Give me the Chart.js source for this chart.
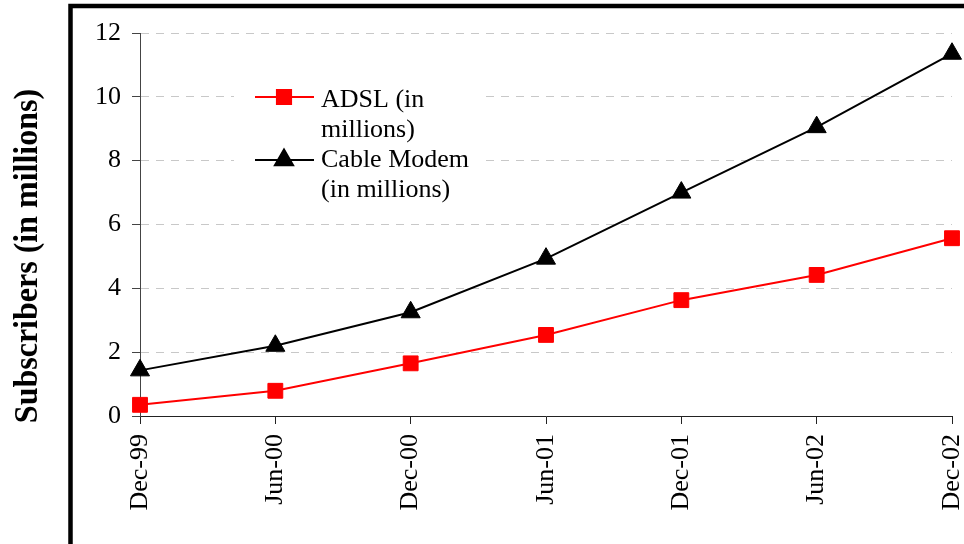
<!DOCTYPE html>
<html>
<head>
<meta charset="utf-8">
<script src="https://cdn.jsdelivr.net/npm/chart.js@4/dist/chart.umd.min.js"></script>
<style>
  html, body { margin: 0; padding: 0; background: #fff; }
  #c { display: block; }
</style>
</head>
<body>
<canvas id="c" width="964" height="544"></canvas>
<script>
// Broadband subscribers, half-yearly
const periods = ['Dec-99', 'Jun-00', 'Dec-00', 'Jun-01', 'Dec-01', 'Jun-02', 'Dec-02'];
const adsl = [0.35, 0.79, 1.65, 2.54, 3.63, 4.42, 5.57];
const cableModem = [1.43, 2.2, 3.25, 4.93, 7.0, 9.05, 11.35];
const yTicks = [0, 2, 4, 6, 8, 10, 12];
const seriesNames = [['ADSL (in', 'millions)'], ['Cable Modem', '(in millions)']];
const yTitle = 'Subscribers (in millions)';

const SERIF = '"Liberation Serif", "Times New Roman", serif';

// Outer frame, axis title and the boxed legend
const decorations = {
  id: 'decorations',
  beforeDatasetsDraw(chart) {
    const ctx = chart.ctx;
    ctx.save();
    // legend background hides the grid behind it
    ctx.fillStyle = '#fff';
    ctx.fillRect(234, 70, 249, 146);
    const items = [
      { color: '#ff0000', style: 'rect', radius: 10, y: 97, lines: seriesNames[0], base: 107 },
      { color: '#000000', style: 'triangle', radius: 10.5, y: 160, lines: seriesNames[1], base: 167 }
    ];
    ctx.font = '26px ' + SERIF;
    ctx.textBaseline = 'alphabetic';
    ctx.textAlign = 'left';
    items.forEach(it => {
      ctx.strokeStyle = it.color;
      ctx.lineWidth = 2;
      ctx.beginPath();
      ctx.moveTo(255, it.y);
      ctx.lineTo(314, it.y);
      ctx.stroke();
      ctx.fillStyle = it.color;
      Chart.helpers.drawPoint(ctx, { pointStyle: it.style, radius: it.radius, borderWidth: 1, rotation: 0 }, 284, it.y);
      ctx.fill();
      ctx.fillStyle = '#000';
      it.lines.forEach((t, i) => ctx.fillText(t, 321, it.base + i * 30));
    });
    ctx.restore();
  },
  afterDraw(chart) {
    const ctx = chart.ctx;
    ctx.save();
    ctx.strokeStyle = '#000';
    ctx.lineWidth = 4.5;
    ctx.strokeRect(70.5, 6, 1000, 1000);
    ctx.translate(37, 256);
    ctx.rotate(-Math.PI / 2);
    ctx.scale(1, 1.08);
    ctx.font = 'bold 32px ' + SERIF;
    ctx.fillStyle = '#000';
    ctx.textAlign = 'center';
    ctx.textBaseline = 'alphabetic';
    ctx.fillText(yTitle, 0, 0);
    ctx.restore();
  }
};

new Chart(document.getElementById('c'), {
  type: 'line',
  data: {
    labels: periods,
    datasets: [
      {
        label: seriesNames[0].join(' '),
        data: adsl,
        borderColor: '#ff0000',
        backgroundColor: '#ff0000',
        borderWidth: 2,
        pointStyle: 'rect',
        pointRadius: 10.5,
        pointBorderWidth: 1,
        tension: 0
      },
      {
        label: seriesNames[1].join(' '),
        data: cableModem,
        borderColor: '#000000',
        backgroundColor: '#000000',
        borderWidth: 2,
        pointStyle: 'triangle',
        pointRadius: 11,
        pointBorderWidth: 1,
        tension: 0
      }
    ]
  },
  options: {
    responsive: false,
    animation: false,
    devicePixelRatio: 1,
    layout: { padding: { top: 33, right: 12, left: 0, bottom: 0 } },
    plugins: {
      legend: { display: false },
      tooltip: { enabled: false }
    },
    scales: {
      x: {
        type: 'category',
        offset: false,
        afterFit(scale) {
          scale.height = 128;
          scale.paddingLeft = 0;
          scale.paddingRight = 0;
        },
        grid: {
          drawOnChartArea: false,
          drawTicks: true,
          tickLength: 8,
          tickColor: '#222',
          tickWidth: 1
        },
        border: { display: true, color: '#222', width: 1 },
        ticks: {
          minRotation: 90,
          maxRotation: 90,
          autoSkip: false,
          padding: 10,
          color: '#000',
          font: { family: SERIF, size: 26 }
        }
      },
      y: {
        min: 0,
        max: 12,
        afterFit(scale) {
          scale.width = 140;
          scale.paddingTop = 0;
          scale.paddingBottom = 0;
        },
        afterBuildTicks(scale) {
          scale.ticks = yTicks.map(v => ({ value: v }));
        },
        grid: {
          color: '#c8c8c8',
          lineWidth: 1,
          tickLength: 8,
          tickColor: '#444',
          tickBorderDash: [],
          drawTicks: true
        },
        border: { display: true, color: '#444', width: 1, dash: [8, 7] },
        ticks: {
          padding: 11,
          color: '#000',
          font: { family: SERIF, size: 26 }
        }
      }
    }
  },
  plugins: [decorations]
});
</script>
</body>
</html>
